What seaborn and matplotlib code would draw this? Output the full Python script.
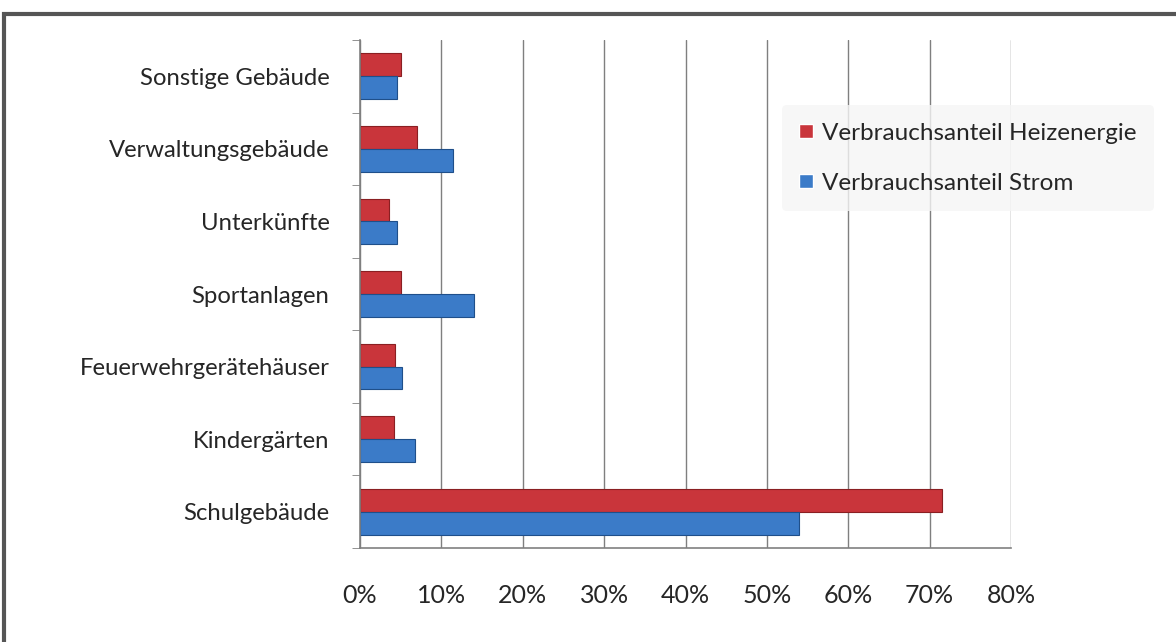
import matplotlib
matplotlib.use("Agg")
import matplotlib.pyplot as plt
from matplotlib.patches import Rectangle
from matplotlib.ticker import FuncFormatter
import pandas as pd
import seaborn as sns

# Data
categories = ["Sonstige Gebäude", "Verwaltungsgebäude", "Unterkünfte", "Sportanlagen",
              "Feuerwehrgerätehäuser", "Kindergärten", "Schulgebäude"]
heizenergie = [5.0, 7.0, 3.6, 5.0, 4.3, 4.2, 71.5]
strom = [4.6, 11.4, 4.6, 14.0, 5.2, 6.8, 54.0]
series_names = ["Verbrauchsanteil Heizenergie", "Verbrauchsanteil Strom"]
x_ticks = [0, 10, 20, 30, 40, 50, 60, 70, 80]

df = pd.DataFrame({
    "Kategorie": categories * 2,
    "Anteil": heizenergie + strom,
    "Serie": [series_names[0]] * len(categories) + [series_names[1]] * len(categories),
})

sns.set_style("white")
plt.rcParams["font.family"] = ["Lato", "DejaVu Sans"]

fig = plt.figure(figsize=(11.76, 6.42), dpi=100)
ax = fig.add_axes([360 / 1176, 1 - 548 / 642, 651 / 1176, 508 / 642])

sns.barplot(data=df, x="Anteil", y="Kategorie", hue="Serie", order=categories,
            hue_order=series_names, palette=["#c9353b", "#3b7bc8"], width=0.63,
            orient="h", ax=ax, saturation=1)
for bars, ec in zip(ax.containers, ["#8a1f22", "#1f4f8a"]):
    for b in bars:
        b.set_edgecolor(ec)
        b.set_linewidth(0.8)

ax.set_xlim(0, 80)
ax.set_ylim(6.5, -0.5)
ax.set_xticks(x_ticks)
ax.xaxis.set_major_formatter(FuncFormatter(lambda v, p: f"{int(v)}%"))
ax.grid(axis="x", color="#7f7f7f", linewidth=1)
ax.set_axisbelow(True)
ax.set_xlabel("")
ax.set_ylabel("")

for s in ["top", "right"]:
    ax.spines[s].set_visible(False)
for s in ["left", "bottom"]:
    ax.spines[s].set_color("#808080")
    ax.spines[s].set_linewidth(1.2)

ax.set_yticks([i + 0.5 for i in range(-1, len(categories))], minor=True)
ax.tick_params(axis="y", which="minor", length=6, color="#808080", left=True)
ax.tick_params(axis="y", which="major", length=0, pad=22, labelsize=17.2, labelcolor="#262626")
ax.tick_params(axis="x", which="major", length=0, pad=26, labelsize=18, labelcolor="#262626")

leg = ax.legend(loc="upper left", bbox_to_anchor=(0.63, 0.895), frameon=True,
                fontsize=17.5, handlelength=0.55, handleheight=0.55, handletextpad=0.4,
                labelspacing=1.2, borderpad=0.7)
leg.get_frame().set_facecolor("#f5f5f5")
leg.get_frame().set_edgecolor("none")
for t in leg.get_texts():
    t.set_color("#262626")

fig.patches.append(Rectangle((4 / 1176, -0.05), 1.2, 1 - 14 / 642 + 0.05,
                             transform=fig.transFigure, fill=False,
                             edgecolor="#555555", linewidth=3))

fig.savefig("out.png", dpi=100)
